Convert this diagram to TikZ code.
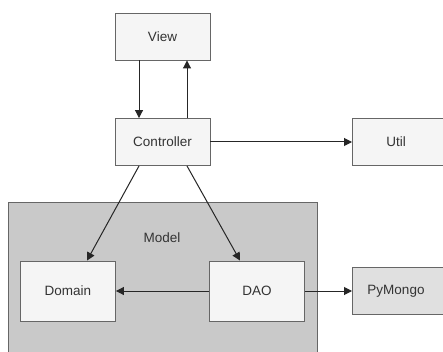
\documentclass[tikz,border=0pt]{standalone}
\usepackage{fontspec}
\setmainfont{Liberation Sans}
\usetikzlibrary{arrows.meta}
\definecolor{boxfill}{HTML}{F5F5F5}
\definecolor{boxline}{HTML}{666666}
\definecolor{modelfill}{HTML}{C9C9C9}
\definecolor{extfill}{HTML}{E0E0E0}
\definecolor{txt}{HTML}{333333}
\tikzset{
  cbox/.style={draw=boxline, fill=boxfill, line width=0.9pt, minimum width=95pt, minimum height=47pt, inner sep=0pt, text=txt, font=\fontsize{13.5}{15}\selectfont},
  lbl/.style={text=txt, font=\fontsize{13.5}{15}\selectfont},
  conn/.style={-{Triangle[length=8pt,width=8pt]}, line width=1pt, draw=black!85}
}
\begin{document}
\begin{tikzpicture}[x=1pt,y=-1pt]
\useasboundingbox (0,0) rectangle (443,352);
\fill[white] (0,0) rectangle (443,352);
\begin{scope}
\clip (0,0) rectangle (443,352);
\node[draw=boxline, fill=modelfill, line width=0.9pt, minimum width=309pt, minimum height=170pt, anchor=north west, inner sep=0pt] (model) at (8,202) {};
\node[lbl] (modellabel) at (162,238) {Model};
\node[cbox, anchor=north west, minimum width=100pt] (util) at (352,118.5) {};
\node[lbl] (utiltext) at (396,142) {Util};
\node[cbox, fill=extfill, anchor=north west, minimum width=100pt] (pymongo) at (352,267) {};
\node[lbl] (pytext) at (396,291) {PyMongo};
\end{scope}
\node[cbox] (view) at (162.5,36.5) {View};
\node[cbox] (ctrl) at (162.5,142) {Controller};
\node[cbox, minimum height=60pt] (domain) at (68,291) {Domain};
\node[cbox, minimum height=60pt] (dao) at (257,291) {DAO};
\draw[conn] (view.south -| 139,0) -- (ctrl.north -| 139,0);
\draw[conn] (ctrl.north -| 187,0) -- (view.south -| 187,0);
\draw[conn] (ctrl.east) -- (ctrl.east -| util.west);
\draw[conn] (ctrl.south -| 139,0) -- (domain.north -| 87,0);
\draw[conn] (ctrl.south -| 187,0) -- (dao.north -| 240,0);
\draw[conn] (dao.west) -- (domain.east);
\draw[conn] (dao.east) -- (dao.east -| pymongo.west);
\end{tikzpicture}
\end{document}
